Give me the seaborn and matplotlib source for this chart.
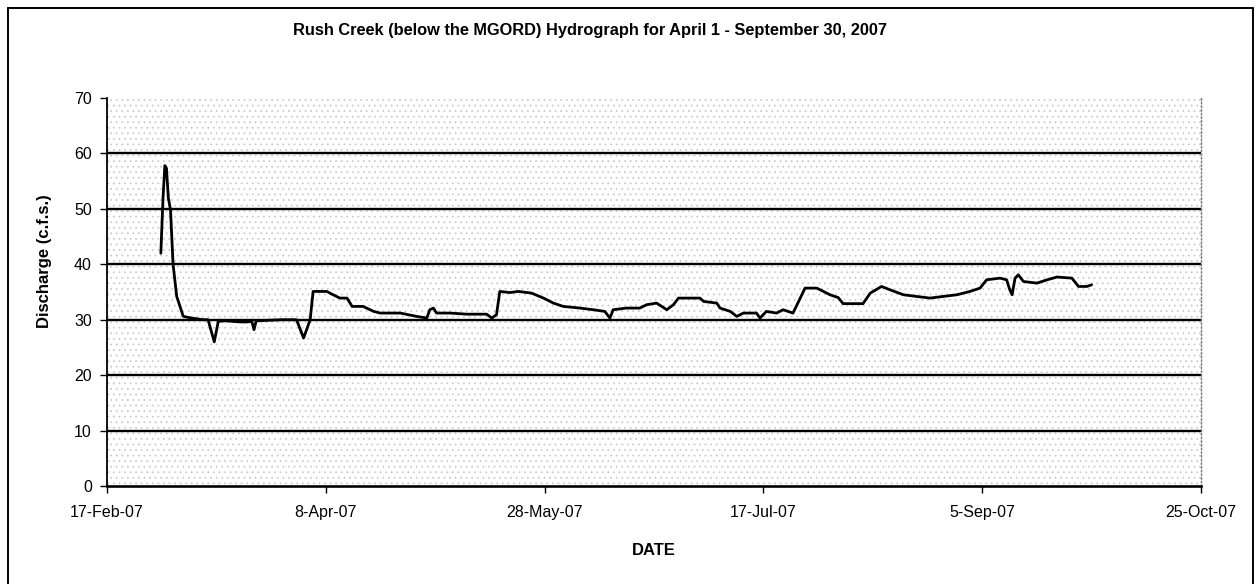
import matplotlib
matplotlib.use("Agg")
import matplotlib.pyplot as plt
import matplotlib.dates as mdates
from matplotlib.patches import Rectangle
from matplotlib.lines import Line2D
import pandas as pd
import seaborn as sns

# readings taken off the hydrograph (date, discharge in c.f.s.)
dates = [
    "2007-03-01 07:00", "2007-03-01 19:00", "2007-03-02 05:00", "2007-03-02 14:00",
    "2007-03-03 00:00", "2007-03-03 12:00", "2007-03-04 02:00", "2007-03-04 22:00",
    "2007-03-06 10:00", "2007-03-08 07:00", "2007-03-11 00:00", "2007-03-12 02:00",
    "2007-03-13 12:00", "2007-03-14 10:00", "2007-03-16 00:00", "2007-03-19 10:00",
    "2007-03-21 00:00", "2007-03-22 02:00", "2007-03-22 14:00", "2007-03-23 02:00",
    "2007-03-29 00:00", "2007-04-01 07:00", "2007-04-02 22:00", "2007-04-04 10:00",
    "2007-04-05 02:00", "2007-04-08 05:00", "2007-04-09 16:00", "2007-04-11 05:00",
    "2007-04-12 20:00", "2007-04-14 00:00", "2007-04-16 12:00", "2007-04-18 22:00",
    "2007-04-20 10:00", "2007-04-25 00:00", "2007-04-28 18:00", "2007-05-01 02:00",
    "2007-05-01 18:00", "2007-05-02 14:00", "2007-05-03 07:00", "2007-05-06 10:00",
    "2007-05-10 05:00", "2007-05-14 18:00", "2007-05-15 22:00", "2007-05-17 00:00",
    "2007-05-17 18:00", "2007-05-20 02:00", "2007-05-22 00:00", "2007-05-25 00:00",
    "2007-05-27 18:00", "2007-05-30 00:00", "2007-06-01 06:00", "2007-06-05 02:00",
    "2007-06-08 02:00", "2007-06-10 18:00", "2007-06-11 22:00", "2007-06-12 16:00",
    "2007-06-15 16:00", "2007-06-18 18:00", "2007-06-20 07:00", "2007-06-22 14:00",
    "2007-06-24 22:00", "2007-06-26 10:00", "2007-06-27 14:00", "2007-07-02 12:00",
    "2007-07-03 08:00", "2007-07-06 08:00", "2007-07-07 02:00", "2007-07-09 10:00",
    "2007-07-10 22:00", "2007-07-12 10:00", "2007-07-15 10:00", "2007-07-16 05:00",
    "2007-07-17 16:00", "2007-07-20 00:00", "2007-07-21 12:00", "2007-07-23 18:00",
    "2007-07-25 10:00", "2007-07-26 12:00", "2007-07-29 05:00", "2007-08-01 05:00",
    "2007-08-03 02:00", "2007-08-04 05:00", "2007-08-08 18:00", "2007-08-10 10:00",
    "2007-08-13 00:00", "2007-08-14 22:00", "2007-08-18 00:00", "2007-08-21 00:00",
    "2007-08-24 02:00", "2007-08-27 02:00", "2007-08-30 05:00", "2007-09-02 05:00",
    "2007-09-04 12:00", "2007-09-06 00:00", "2007-09-09 02:00", "2007-09-10 14:00",
    "2007-09-11 06:00", "2007-09-11 20:00", "2007-09-12 12:00", "2007-09-13 06:00",
    "2007-09-14 10:00", "2007-09-17 12:00", "2007-09-19 20:00", "2007-09-22 02:00",
    "2007-09-25 12:00", "2007-09-27 00:00", "2007-09-28 22:00", "2007-09-30 00:00",
]
discharge = [
    42.0, 52.0, 57.8, 57.3,
    52.0, 49.8, 40.0, 34.2,
    30.6, 30.3, 30.0, 30.0,
    26.0, 29.7, 29.8, 29.6,
    29.6, 29.7, 28.2, 29.8,
    30.0, 30.0, 26.7, 30.0,
    35.1, 35.1, 34.5, 33.9,
    33.9, 32.4, 32.4, 31.5,
    31.2, 31.2, 30.6, 30.3,
    31.8, 32.1, 31.2, 31.2,
    31.0, 31.0, 30.3, 30.9,
    35.1, 34.9, 35.1, 34.8,
    33.9, 33.0, 32.4, 32.1,
    31.8, 31.5, 30.3, 31.8,
    32.1, 32.1, 32.7, 33.0,
    31.8, 32.7, 33.9, 33.9,
    33.3, 33.0, 32.1, 31.5,
    30.6, 31.2, 31.2, 30.3,
    31.5, 31.2, 31.8, 31.2,
    33.9, 35.7, 35.7, 34.5,
    34.0, 32.9, 32.9, 34.8,
    36.0, 35.4, 34.5, 34.2,
    33.9, 34.2, 34.5, 35.1,
    35.7, 37.2, 37.5, 37.2,
    35.5, 34.5, 37.5, 38.1,
    36.9, 36.6, 37.2, 37.7,
    37.5, 36.0, 36.0, 36.3,
]

x_start, x_end = "2007-02-17", "2007-10-25"
y_ticks = [0, 10, 20, 30, 40, 50, 60, 70]

df = pd.DataFrame({"date": pd.to_datetime(dates), "discharge": discharge})

sns.set_theme(style="white")
plt.rcParams["font.family"] = ["Liberation Sans", "DejaVu Sans"]
plt.rcParams["text.color"] = "black"
plt.rcParams["axes.labelcolor"] = "black"
plt.rcParams["xtick.color"] = "black"
plt.rcParams["ytick.color"] = "black"
plt.rcParams["hatch.linewidth"] = 0.6
plt.rcParams["hatch.color"] = "#cccccc"

fig = plt.figure(figsize=(12.58, 5.84), dpi=100)
ax = fig.add_axes([0.0851, 0.1678, 0.8696, 0.6644])

# speckled chart-area fill
ax.add_patch(Rectangle((0, 0), 1, 1, transform=ax.transAxes, facecolor="white",
                       edgecolor="#cccccc", hatch="...", linewidth=0, zorder=0))

for yv in y_ticks[1:-1]:
    ax.axhline(yv, color="black", linewidth=1.7, zorder=1)

sns.lineplot(data=df, x="date", y="discharge", ax=ax, color="black",
             linewidth=2.0, zorder=3)

ax.set_xlim(pd.Timestamp(x_start), pd.Timestamp(x_end))
ax.set_ylim(0, 70)
ax.set_yticks(y_ticks)
ax.set_xticks(pd.date_range(x_start, x_end, freq="50D"))
ax.xaxis.set_major_formatter(mdates.DateFormatter("%-d-%b-%y"))

ax.tick_params(axis="both", which="major", direction="out", length=5, width=1,
               color="black", labelcolor="black", labelsize=11.5,
               bottom=True, left=True)
ax.tick_params(axis="x", pad=9)
ax.tick_params(axis="y", pad=6)

for s in ["left", "bottom"]:
    ax.spines[s].set_color("black")
    ax.spines[s].set_linewidth(1.3)
ax.spines["bottom"].set_linewidth(1.9)
ax.spines["top"].set_visible(False)
ax.spines["right"].set_color("#777777")
ax.spines["right"].set_linestyle(":")
ax.spines["right"].set_linewidth(1.0)

ax.set_xlabel("DATE", fontsize=12, fontweight="bold", labelpad=16, color="black")
ax.set_ylabel("Discharge (c.f.s.)", fontsize=12, fontweight="bold", color="black")
ax.yaxis.set_label_coords(-0.05, 0.58)

fig.text(0.469, 0.948, "Rush Creek (below the MGORD) Hydrograph for April 1 - September 30, 2007",
         ha="center", va="center", fontsize=11.8, fontweight="bold", color="black")

# outer frame of the chart object
for xs, ys in [([0.006, 0.006], [0.0, 0.987]), ([0.006, 0.996], [0.987, 0.987]),
               ([0.996, 0.996], [0.987, 0.0])]:
    fig.add_artist(Line2D(xs, ys, color="black", linewidth=1.4, transform=fig.transFigure))

fig.savefig("out.png", dpi=100)
